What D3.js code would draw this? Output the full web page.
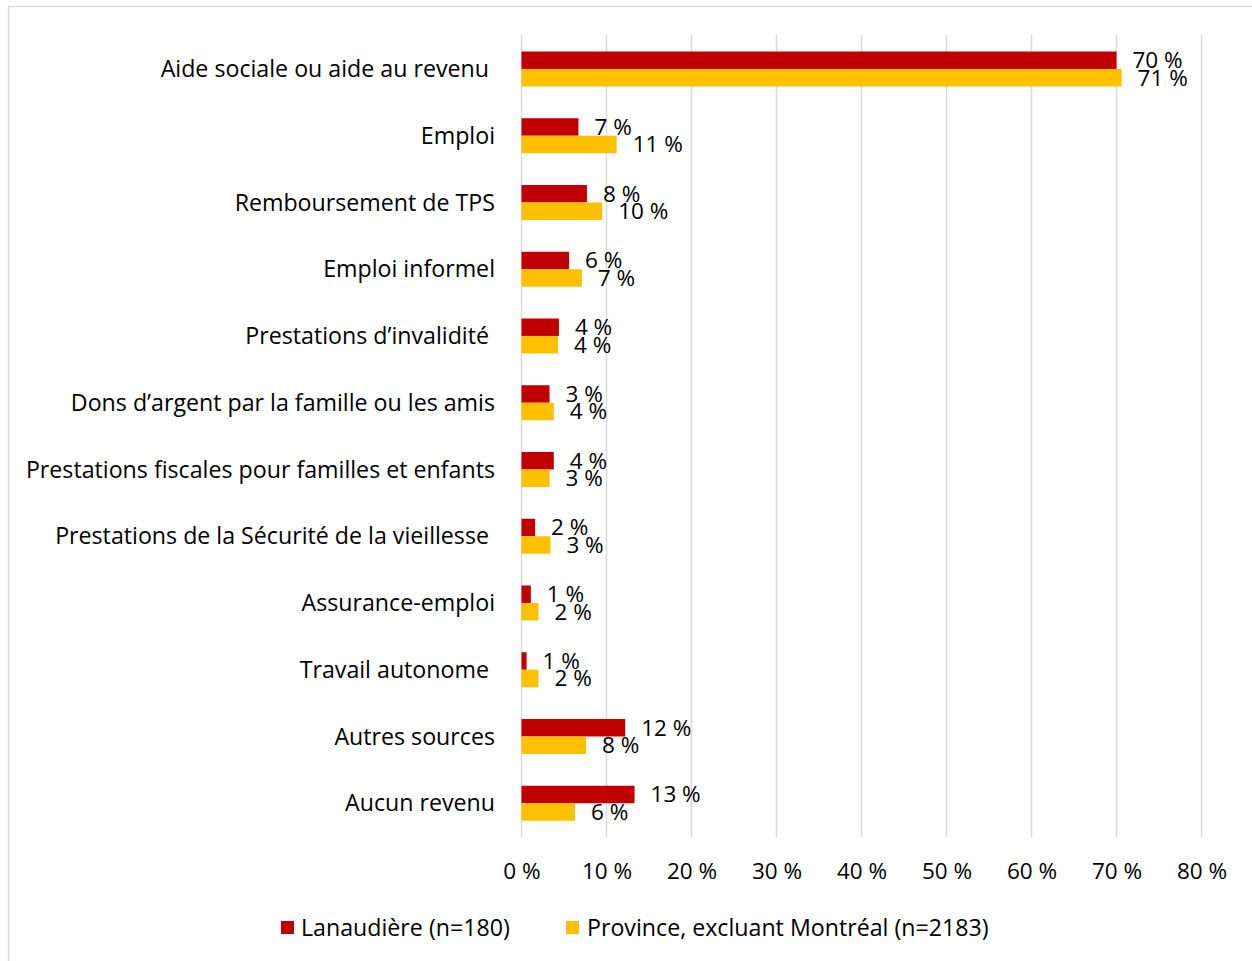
<!DOCTYPE html>
<html>
<head>
<meta charset="utf-8">
<script src="https://cdn.jsdelivr.net/npm/d3@7"></script>
<style>
  html, body { margin: 0; padding: 0; background: #fff; }
  svg text { font-family: "Open Sans", Lato, sans-serif; fill: #000; white-space: pre; }
</style>
</head>
<body>
<svg id="chart" width="1252" height="961"></svg>
<script>
const categories = [
  "Aide sociale ou aide au revenu ",
  "Emploi",
  "Remboursement de TPS",
  "Emploi informel",
  "Prestations d’invalidité ",
  "Dons d’argent par la famille ou les amis",
  "Prestations fiscales pour familles et enfants",
  "Prestations de la Sécurité de la vieillesse ",
  "Assurance-emploi",
  "Travail autonome ",
  "Autres sources",
  "Aucun revenu"
];
const lanaudiere = [70.0, 6.7, 7.7, 5.6, 4.4, 3.3, 3.8, 1.6, 1.1, 0.6, 12.2, 13.3];
const province   = [70.6, 11.2, 9.5, 7.1, 4.3, 3.8, 3.3, 3.4, 2.0, 2.0, 7.6, 6.3];
const seriesNames = ["Lanaudière (n=180)", "Province, excluant Montréal (n=2183)"];
const seriesColors = ["#C00000", "#FFC000"];
const xTicks = [0, 10, 20, 30, 40, 50, 60, 70, 80];

const FS_NUM = "22.5px";
const FS_TXT = "23.2px";
const svg = d3.select("#chart");

// chart border
svg.append("rect")
  .attr("x", 8.5).attr("y", 6.5)
  .attr("width", 1260).attr("height", 980)
  .attr("fill", "none").attr("stroke", "#D9D9D9").attr("stroke-width", 1.3);

const x = d3.scaleLinear().domain([0, 80]).range([521.5, 1201.5]);
const y = d3.scaleBand().domain(categories).range([35.6, 836.6])
  .paddingInner(0.476).paddingOuter(0.238);
const sub = d3.scaleBand().domain([0, 1]).range([0, y.bandwidth()]);

// gridlines
svg.append("g").selectAll("line").data(xTicks).join("line")
  .attr("x1", d => x(d)).attr("x2", d => x(d))
  .attr("y1", 35).attr("y2", 837)
  .attr("stroke", "#D9D9D9").attr("stroke-width", 1.5);

// x axis labels
const xAxis = d3.axisBottom(x).tickValues(xTicks).tickSize(0).tickPadding(0)
  .tickFormat(d => d + " %");
const gx = svg.append("g").attr("transform", "translate(0,871)").call(xAxis);
gx.select(".domain").remove();
gx.selectAll("text").attr("dy", "0.35em").attr("y", 0)
  .style("font-size", FS_NUM);

// category labels
const yAxis = d3.axisLeft(y).tickSize(0).tickPadding(0);
const gy = svg.append("g").attr("transform", "translate(495,0)").call(yAxis);
gy.select(".domain").remove();
gy.selectAll("text").style("font-size", FS_TXT).attr("dy", "0.35em");

const series = [lanaudiere, province];
series.forEach((vals, si) => {
  const g = svg.append("g");
  g.selectAll("rect").data(vals).join("rect")
    .attr("x", x(0))
    .attr("y", (d, i) => y(categories[i]) + sub(si))
    .attr("width", d => x(d) - x(0))
    .attr("height", sub.bandwidth())
    .attr("fill", seriesColors[si]);
  g.selectAll("text").data(vals).join("text")
    .attr("x", d => x(d) + 16)
    .attr("y", (d, i) => y(categories[i]) + sub(si) + sub.bandwidth() / 2)
    .attr("dy", "0.35em")
    .style("font-size", FS_NUM)
    .text(d => Math.round(d) + " %");
});

// legend
const legendItems = [
  { sq: 281, tx: 301 },
  { sq: 566, tx: 587 }
];
legendItems.forEach((p, i) => {
  svg.append("rect").attr("x", p.sq).attr("y", 921).attr("width", 13).attr("height", 13)
    .attr("fill", seriesColors[i]);
  svg.append("text").attr("x", p.tx).attr("y", 928).attr("dy", "0.35em")
    .style("font-size", FS_TXT).text(seriesNames[i]);
});
</script>
</body>
</html>
